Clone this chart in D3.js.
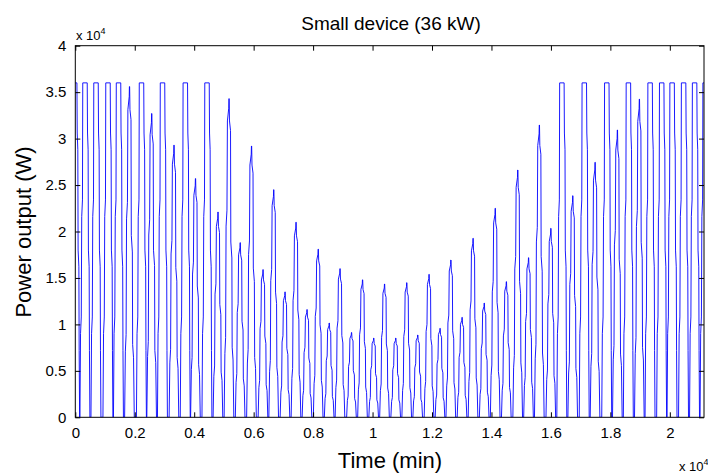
<!DOCTYPE html>
<html>
<head>
<meta charset="utf-8">
<script src="https://cdn.jsdelivr.net/npm/d3@7"></script>
<style>
  body { margin: 0; background: #fff; }
  svg { display: block; font-family: "Liberation Sans", Arial, sans-serif; }
</style>
</head>
<body>
<svg id="chart" width="708" height="474"></svg>
<script>
// peak times (min) and peak power (W)
const peakTimes = [-20, 326, 697, 1100, 1454, 1824, 2227, 2571, 2934, 3321, 3701, 4044, 4431, 4801,
  5172, 5548, 5929, 6316, 6676, 7056, 7426, 7796, 8173, 8543, 8906, 9293, 9664, 10040, 10404,
  10781, 11151, 11521, 11901, 12271, 12635, 13012, 13382, 13758, 14128, 14502, 14885, 15249,
  15612, 15999, 16369, 16736, 17123, 17487, 17880, 18237, 18607, 18977, 19337, 19727, 20077,
  20464, 20834, 21188];
const peakPower = [36000, 36000, 36000, 36000, 36000, 35600, 36000, 32700, 36000, 29300, 36000, 25700,
  36000, 22100, 34300, 18800, 29200, 15900, 24500, 13500, 21000, 11600, 18100, 10150, 16000, 9130,
  14800, 8530, 14350, 8530, 14490, 8860, 15390, 9580, 16930, 10760, 19270, 12300, 22500, 14600,
  26620, 17180, 31460, 20340, 36000, 23850, 36000, 27450, 36000, 30930, 36000, 34250, 36000,
  36000, 36000, 36000, 36000, 36000];

// stepped shape of one peak: [offset (min), fraction of peak]
const partialShape = [[-165, 0], [-140, 0.2], [-115, 0.25], [-100, 0.6], [-70, 0.65], [-55, 0.93],
  [-10, 0.97], [-4, 1], [4, 1], [15, 0.93], [50, 0.9], [60, 0.55], [95, 0.5], [105, 0.22],
  [135, 0.18], [160, 0]];
const ratedShape = [[-170, 0], [-150, 0.25], [-125, 0.3], [-110, 0.6], [-85, 0.65], [-75, 1],
  [75, 1], [85, 0.85], [105, 0.8], [115, 0.5], [140, 0.45], [150, 0.2], [165, 0]];

const xTicks = [0, 2000, 4000, 6000, 8000, 10000, 12000, 14000, 16000, 18000, 20000];
const yTicks = [0, 5000, 10000, 15000, 20000, 25000, 30000, 35000, 40000];

const plot = { left: 75.3, right: 704, top: 45.7, bottom: 417.3 };

const svg = d3.select("#chart");

const x = d3.scaleLinear().domain([0, 21150]).range([plot.left, plot.right]);
const y = d3.scaleLinear().domain([0, 40000]).range([plot.bottom, plot.top]);

const series = [];
peakTimes.forEach((t, i) => {
    const p = peakPower[i];
    const shape = p >= 36000 ? ratedShape : partialShape;
    shape.forEach(([dt, f]) => series.push([t + dt, f * p]));
});

svg.append("defs").append("clipPath").attr("id", "clip")
    .append("rect")
    .attr("x", plot.left).attr("y", plot.top - 2)
    .attr("width", plot.right - plot.left).attr("height", plot.bottom - plot.top + 2);

svg.append("path")
    .datum(series)
    .attr("clip-path", "url(#clip)")
    .attr("fill", "none")
    .attr("stroke", "#0000ff")
    .attr("stroke-width", 0.9)
    .attr("stroke-linejoin", "round")
    .attr("d", d3.line().x((d) => x(d[0])).y((d) => y(d[1])));

const fmt = (d) => (d === 0 ? "0" : String(+(d / 1e4).toFixed(1)));

// axes, MATLAB style with inward ticks on every side
const tickLen = 5;
svg.append("g")
    .attr("transform", `translate(0,${plot.bottom})`)
    .call(d3.axisBottom(x).tickValues(xTicks).tickFormat(fmt).tickSizeInner(-tickLen).tickSizeOuter(0).tickPadding(10))
    .call((g) => g.select(".domain").remove())
    .call((g) => g.selectAll("text").attr("font-size", 15).attr("fill", "#000"));
svg.append("g")
    .attr("transform", `translate(0,${plot.top})`)
    .call(d3.axisTop(x).tickValues(xTicks).tickFormat("").tickSizeInner(-tickLen).tickSizeOuter(0))
    .call((g) => g.select(".domain").remove());
svg.append("g")
    .attr("transform", `translate(${plot.left},0)`)
    .call(d3.axisLeft(y).tickValues(yTicks).tickFormat(fmt).tickSizeInner(-tickLen).tickSizeOuter(0).tickPadding(9))
    .call((g) => g.select(".domain").remove())
    .call((g) => g.selectAll("text").attr("font-size", 15).attr("fill", "#000"));
svg.append("g")
    .attr("transform", `translate(${plot.right},0)`)
    .call(d3.axisRight(y).tickValues(yTicks).tickFormat("").tickSizeInner(-tickLen).tickSizeOuter(0))
    .call((g) => g.select(".domain").remove());

svg.selectAll(".tick line").attr("stroke", "#000");

svg.append("rect")
    .attr("x", plot.left).attr("y", plot.top)
    .attr("width", plot.right - plot.left).attr("height", plot.bottom - plot.top)
    .attr("fill", "none").attr("stroke", "#000").attr("stroke-width", 1);

// title and labels
svg.append("text")
    .attr("x", 391).attr("y", 30)
    .attr("text-anchor", "middle").attr("font-size", 19)
    .text("Small device (36 kW)");

svg.append("text")
    .attr("x", 390).attr("y", 468)
    .attr("text-anchor", "middle").attr("font-size", 22)
    .text("Time (min)");

svg.append("text")
    .attr("transform", "translate(31,232) rotate(-90)")
    .attr("text-anchor", "middle").attr("font-size", 22)
    .text("Power output (W)");

const expo = (px, py) => {
    const t = svg.append("text").attr("x", px).attr("y", py).attr("font-size", 13);
    t.append("tspan").text("x 10");
    t.append("tspan").attr("dy", -6).attr("font-size", 9).text("4");
};
expo(76, 40);
expo(679, 471);
</script>
</body>
</html>
